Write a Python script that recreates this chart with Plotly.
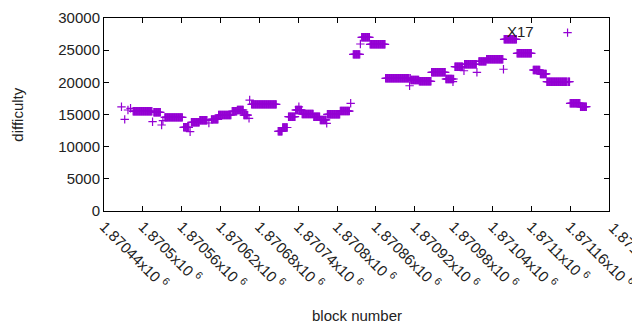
import plotly.graph_objects as go

# Runs of consecutive blocks sharing the same difficulty
run_first_block = [
    1870467, 1870472, 1870477, 1870481, 1870485, 1870515, 1870517, 1870529,
    1870531, 1870534, 1870563, 1870573, 1870575, 1870588, 1870602, 1870606,
    1870617, 1870638, 1870646, 1870656, 1870664, 1870665, 1870668, 1870709,
    1870716, 1870725, 1870736, 1870741, 1870742, 1870746, 1870764, 1870774,
    1870784, 1870785, 1870805, 1870821, 1870825, 1870836, 1870838, 1870851,
    1870875, 1870912, 1870913, 1870914, 1870927, 1870946, 1870968, 1870979,
    1870980, 1870982, 1870996, 1870997, 1871016, 1871019, 1871031, 1871057,
    1871058, 1871078, 1871103, 1871114, 1871124, 1871156, 1871157, 1871160,
    1871176,
]
run_last_block = [
    1870467, 1870472, 1870477, 1870481, 1870514, 1870515, 1870527, 1870529,
    1870531, 1870561, 1870571, 1870573, 1870587, 1870599, 1870602, 1870616,
    1870636, 1870645, 1870655, 1870662, 1870664, 1870665, 1870706, 1870715,
    1870723, 1870735, 1870740, 1870741, 1870745, 1870763, 1870773, 1870783,
    1870784, 1870804, 1870819, 1870821, 1870835, 1870836, 1870850, 1870874,
    1870911, 1870912, 1870913, 1870926, 1870945, 1870967, 1870978, 1870979,
    1870980, 1870994, 1870996, 1871015, 1871016, 1871030, 1871056, 1871057,
    1871077, 1871100, 1871113, 1871123, 1871155, 1871156, 1871159, 1871175,
    1871185,
]
run_difficulty = [
    16200, 14250, 15700, 15960, 15500, 13880, 15340, 13370,
    14040, 14560, 13010, 12330, 13790, 14100, 13680, 14250,
    14920, 15500, 15700, 14900, 14400, 17250, 16580, 12400,
    12980, 14660, 15700, 16200, 15700, 15080, 14660, 14150,
    13630, 15030, 15540, 16740, 24350, 25960, 27000, 25910,
    20630, 19470, 20630, 20360, 20160, 21560, 20520, 20100,
    20520, 22430, 21800, 22800, 21560, 23260, 23580, 22030,
    26690, 24510, 21920, 21300, 20100, 27720, 20100, 16740,
    16210,
]

x_tick_values = [1870440 + 60 * i for i in range(14)]
x_tick_labels = [
    "1.87044x10 <sup>6</sup>", "1.8705x10 <sup>6</sup>", "1.87056x10 <sup>6</sup>",
    "1.87062x10 <sup>6</sup>", "1.87068x10 <sup>6</sup>", "1.87074x10 <sup>6</sup>",
    "1.8708x10 <sup>6</sup>", "1.87086x10 <sup>6</sup>", "1.87092x10 <sup>6</sup>",
    "1.87098x10 <sup>6</sup>", "1.87104x10 <sup>6</sup>", "1.8711x10 <sup>6</sup>",
    "1.87116x10 <sup>6</sup>", "1.87122x10 <sup>6</sup>",
]
y_tick_values = [0, 5000, 10000, 15000, 20000, 25000, 30000]
y_tick_labels = ["0", "5000", "10000", "15000", "20000", "25000", "30000"]

label_text = "X17"
label_block = 1871059
label_difficulty = 27950

blocks, difficulty = [], []
for a, b, v in zip(run_first_block, run_last_block, run_difficulty):
    for blk in range(a, b + 1):
        blocks.append(blk)
        difficulty.append(v)

FONT = "Liberation Sans, Arial, sans-serif"

fig = go.Figure()
fig.add_trace(go.Scatter(
    x=blocks, y=difficulty, mode="markers",
    marker=dict(symbol="cross-thin", size=6,
                line=dict(width=1.2, color="#9400d3"), color="#9400d3"),
    showlegend=False, hoverinfo="x+y",
))

fig.add_annotation(x=label_block, y=label_difficulty, text=label_text,
                   showarrow=False, xanchor="left", yanchor="middle",
                   font=dict(size=15, color="#222222", family=FONT))
fig.add_annotation(x=0.5, y=-0.54, xref="paper", yref="paper",
                   text="block number", showarrow=False,
                   xanchor="center", yanchor="middle",
                   font=dict(size=15, color="#222222", family=FONT))
fig.add_annotation(x=-0.172, y=0.5, xref="paper", yref="paper",
                   text="difficulty", showarrow=False, textangle=-90,
                   xanchor="center", yanchor="middle",
                   font=dict(size=15, color="#222222", family=FONT))
# last tick label sits on the right border and runs off the canvas, as in the reference
fig.add_annotation(x=x_tick_values[-1], y=0, xref="x", yref="paper",
                   text=x_tick_labels[-1], showarrow=False, textangle=45,
                   xanchor="left", yanchor="top", xshift=-6, yshift=-3,
                   font=dict(size=15, color="#222222", family=FONT))

# page body adds an 8px offset; size the figure so the plot area lands
# where the reference has it
fig.update_layout(
    width=632, height=322,
    margin=dict(l=96, r=31, t=10, b=119, autoexpand=False),
    paper_bgcolor="white", plot_bgcolor="white",
    font=dict(family=FONT, size=15, color="#222222"),
    xaxis=dict(range=[1870440, 1871220], tickmode="array",
               tickvals=x_tick_values[:-1], ticktext=x_tick_labels[:-1],
               tickangle=45, ticks="inside", ticklen=5, tickcolor="black",
               showline=True, linecolor="black", linewidth=1,
               mirror="allticks", showgrid=False, zeroline=False,
               automargin=False, fixedrange=True),
    yaxis=dict(range=[0, 30000], tickmode="array",
               tickvals=y_tick_values, ticktext=y_tick_labels,
               ticks="inside", ticklen=5,
               tickcolor="black", showline=True, linecolor="black",
               linewidth=1, mirror="allticks", showgrid=False,
               zeroline=False, automargin=False, fixedrange=True),
)

fig.write_html("out.html")
